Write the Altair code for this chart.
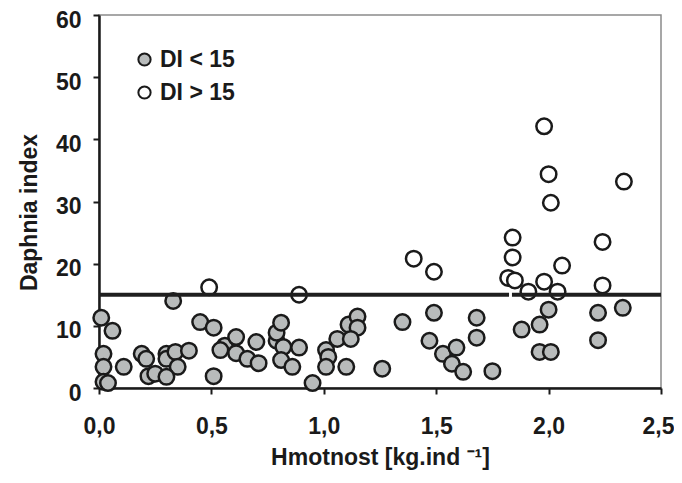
import altair as alt
import pandas as pd

# DI < 15 (grey filled)
low_x = [0.01, 0.06, 0.02, 0.02, 0.02, 0.04, 0.11, 0.19, 0.21, 0.22, 0.25, 0.30, 0.30, 0.34,
         0.35, 0.30, 0.40, 0.33, 0.45, 0.51, 0.51, 0.56, 0.54, 0.61, 0.61, 0.66, 0.71, 0.70,
         0.79, 0.79, 0.81, 0.82, 0.81, 0.86, 0.89, 0.95, 1.01, 1.02, 1.01, 1.06, 1.11, 1.15,
         1.15, 1.12, 1.10, 1.26, 1.35, 1.49, 1.47, 1.53, 1.59, 1.57, 1.62, 1.68, 1.68, 1.75,
         1.88, 1.96, 2.00, 1.96, 2.01, 2.22, 2.22, 2.33]
low_y = [11.3, 9.2, 5.5, 3.4, 1.0, 0.8, 3.4, 5.5, 4.7, 1.9, 2.3, 5.5, 4.7, 5.8,
         3.4, 1.8, 6.0, 14.0, 10.6, 9.7, 1.9, 6.8, 6.1, 8.2, 5.6, 4.7, 4.0, 7.4,
         7.6, 8.9, 10.5, 6.6, 4.5, 3.4, 6.5, 0.8, 6.1, 5.0, 3.4, 7.9, 10.2, 11.5,
         9.7, 7.9, 3.4, 3.1, 10.6, 12.1, 7.6, 5.5, 6.5, 3.9, 2.6, 11.3, 8.1, 2.7,
         9.4, 10.2, 12.6, 5.8, 5.8, 12.1, 7.7, 12.9]

# DI > 15 (open)
high_x = [0.49, 0.89, 1.40, 1.49, 1.84, 1.84, 1.82, 1.85, 1.91, 1.98, 2.04, 2.06, 1.98,
          2.00, 2.01, 2.24, 2.24, 2.335]
high_y = [16.2, 15.0, 20.8, 18.7, 24.2, 21.0, 17.7, 17.3, 15.5, 17.1, 15.5, 19.7, 42.1,
          34.4, 29.8, 23.5, 16.5, 33.2]

groups = ["DI < 15", "DI > 15"]
x_ticks = [0.0, 0.5, 1.0, 1.5, 2.0, 2.5]
y_ticks = [0, 10, 20, 30, 40, 50, 60]
threshold = 15
rule_start = [0.0, 1.837]
rule_end = [1.824, 2.5]

df = pd.concat([
    pd.DataFrame({"x": low_x, "y": low_y, "group": groups[0]}),
    pd.DataFrame({"x": high_x, "y": high_y, "group": groups[1]}),
], ignore_index=True)
rule_df = pd.DataFrame({"x1": rule_start, "x2": rule_end, "y": [threshold] * len(rule_start)})

ink = "#1a1a1a"
font = "Liberation Sans"

x_enc = alt.X("x:Q", scale=alt.Scale(domain=[0, 2.5], nice=False),
              axis=alt.Axis(values=x_ticks, labelExpr="replace(format(datum.value, '.1f'), '.', ',')",
                            labelFlush=False, labelPadding=21, titlePadding=8,
                            labelOffset={"condition": {"test": "datum.value >= 2.5", "value": -3},
                                         "value": 0}),
              title="Hmotnost [kg.ind ⁻¹]")
y_enc = alt.Y("y:Q", scale=alt.Scale(domain=[0, 60], nice=False),
              axis=alt.Axis(values=y_ticks, labelPadding=12, labelOffset=5,
                            titlePadding=14, titleY=197),
              title="Daphnia index")

points = alt.Chart(df).mark_circle(size=240, stroke=ink, strokeWidth=2.5, opacity=1).encode(
    x=x_enc,
    y=y_enc,
    fill=alt.Fill("group:N", scale=alt.Scale(domain=groups, range=["#b8bbbb", "#ffffff"]),
                  legend=alt.Legend(title=None, orient="none", legendX=34, legendY=33,
                                    symbolType="circle", symbolSize=150,
                                    symbolStrokeColor=ink, symbolStrokeWidth=2,
                                    labelFont=font, labelFontSize=23, labelFontWeight="bold",
                                    labelColor=ink, rowPadding=9, labelOffset=4)),
)

rule = alt.Chart(rule_df).mark_rule(strokeWidth=4, color="#1f1f1f").encode(
    x=alt.X("x1:Q"), x2="x2:Q", y=alt.Y("y:Q"))

chart = alt.layer(points, rule).properties(
    width=562, height=373,
    autosize=alt.AutoSizeParams(type="none"),
    padding={"left": 91, "top": 7, "right": 13, "bottom": 87},
).configure_view(stroke="#8a8a8a", strokeWidth=1.5).configure_axis(
    grid=False, domainColor=ink, domainWidth=2.5, tickColor=ink, tickWidth=2, tickSize=6,
    labelFont=font, labelFontSize=23, labelFontWeight="bold", labelColor=ink,
    titleFont=font, titleFontSize=23, titleFontWeight="bold", titleColor=ink,
)

chart.save("out.html", embed_options={"renderer": "svg", "actions": False})
